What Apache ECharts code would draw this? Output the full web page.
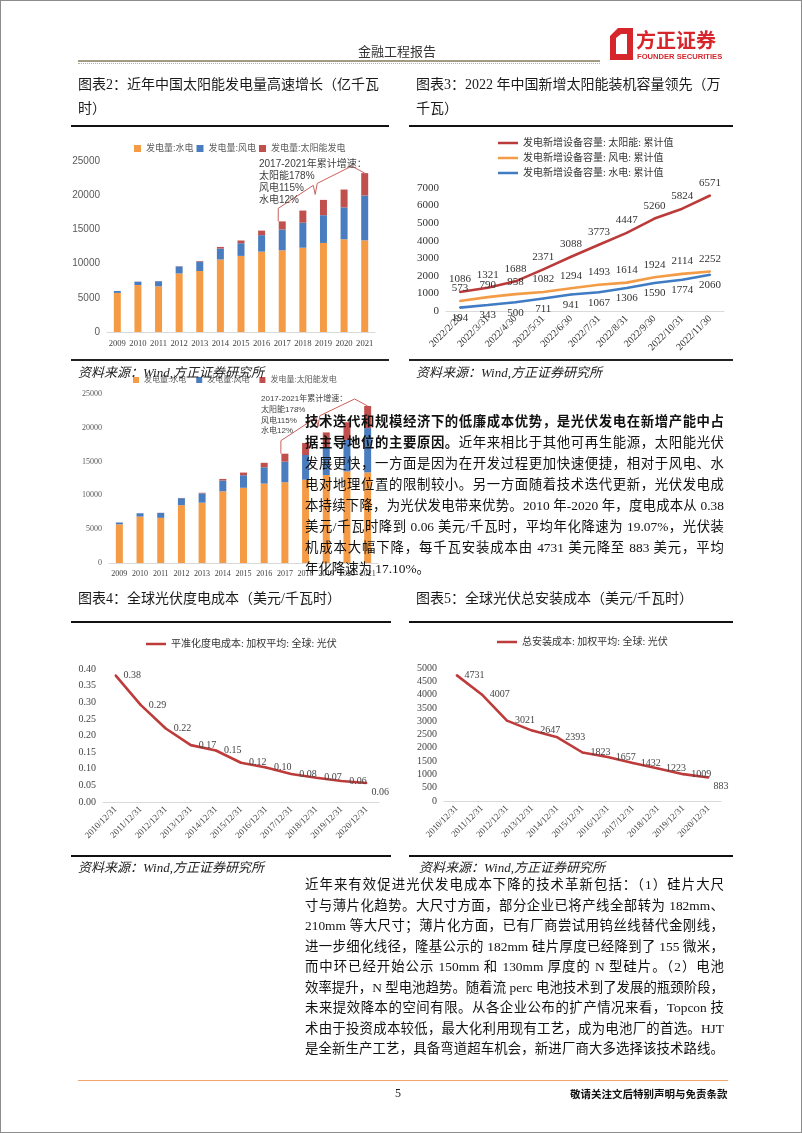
<!DOCTYPE html>
<html><head><meta charset="utf-8">
<script src="https://cdn.jsdelivr.net/npm/echarts@6.0.0/dist/echarts.min.js"></script>
<style>
html,body{margin:0;padding:0;background:#fff;}
#page{position:relative;width:802px;height:1133px;overflow:hidden;background:#fff;box-sizing:border-box;border:1px solid #8c8c8c;font-family:"Liberation Serif","Noto Sans CJK SC",serif;color:#1a1a1a;}
#chart{position:absolute;left:0;top:0;width:802px;height:1133px;z-index:1;}
.t{position:absolute;white-space:nowrap;z-index:2;}
.ttl{font-size:14px;height:20px;line-height:20px;color:#1a1a1a;}
.src{font-size:13px;font-style:italic;height:18px;line-height:18px;color:#222;}
.hl{position:absolute;z-index:2;}
.pl{position:absolute;z-index:3;left:304px;width:419px;height:20px;line-height:20px;font-size:13.4px;white-space:nowrap;text-align:justify;text-align-last:justify;color:#111;}
.pl.last{text-align-last:left;}
.pl b{font-weight:bold;}
</style>
</head><body>
<div id="page">
<div id="chart"></div>

<!-- header -->
<div class="t" style="left:357px;top:40px;font-size:13px;color:#333;">金融工程报告</div>
<div class="hl" style="left:77px;top:59px;width:522px;height:2px;background:#a39a83;"></div>
<div class="hl" style="left:77px;top:62px;width:522px;height:0;border-top:1px dotted #b9b3a3;"></div>
<svg class="t" style="left:606px;top:26px;" width="124" height="36" viewBox="0 0 124 36">
  <polygon points="3,9 11,1 26,1 26,33 3,33" fill="#d6262c"/>
  <polygon points="9,11 14,7 20,7 20,27 9,27" fill="#fff"/>
  <text x="29" y="21" font-family="Noto Sans CJK SC" font-weight="bold" font-size="20" fill="#d6262c">方正证券</text>
  <text x="30" y="32" font-family="Liberation Sans" font-weight="bold" font-size="7.6" fill="#d6262c">FOUNDER SECURITIES</text>
</svg>

<!-- titles row 1 -->
<div class="t ttl" style="left:77px;top:74px;">图表2：近年中国太阳能发电量高速增长（亿千瓦</div>
<div class="t ttl" style="left:77px;top:98px;">时）</div>
<div class="t ttl" style="left:415px;top:74px;">图表3：2022 年中国新增太阳能装机容量领先（万</div>
<div class="t ttl" style="left:415px;top:98px;">千瓦）</div>
<div class="hl" style="left:70px;top:124px;width:318px;height:2px;background:#111;"></div>
<div class="hl" style="left:408px;top:124px;width:324px;height:2px;background:#111;"></div>
<div class="hl" style="left:70px;top:358px;width:318px;height:2px;background:#222;"></div>
<div class="hl" style="left:408px;top:358px;width:324px;height:2px;background:#222;"></div>
<div class="t src" style="left:77px;top:363px;">资料来源：Wind,方正证券研究所</div>
<div class="t src" style="left:415px;top:363px;">资料来源：Wind,方正证券研究所</div>

<!-- middle paragraph -->
<div class="pl" style="top:411px;"><b>技术迭代和规模经济下的低廉成本优势，是光伏发电在新增产能中占</b></div>
<div class="pl" style="top:432px;"><b>据主导地位的主要原因。</b>近年来相比于其他可再生能源，太阳能光伏</div>
<div class="pl" style="top:453px;">发展更快，一方面是因为在开发过程更加快速便捷，相对于风电、水</div>
<div class="pl" style="top:474px;">电对地理位置的限制较小。另一方面随着技术迭代更新，光伏发电成</div>
<div class="pl" style="top:495px;">本持续下降，为光伏发电带来优势。2010 年-2020 年，度电成本从 0.38</div>
<div class="pl" style="top:516px;">美元/千瓦时降到 0.06 美元/千瓦时，平均年化降速为 19.07%，光伏装</div>
<div class="pl" style="top:537px;">机成本大幅下降，每千瓦安装成本由 4731 美元降至 883 美元，平均</div>
<div class="pl last" style="top:558px;">年化降速为 17.10%。</div>

<!-- titles row 2 -->
<div class="t ttl" style="left:77px;top:588px;">图表4：全球光伏度电成本（美元/千瓦时）</div>
<div class="t ttl" style="left:415px;top:588px;">图表5：全球光伏总安装成本（美元/千瓦时）</div>
<div class="hl" style="left:70px;top:620px;width:320px;height:2px;background:#111;"></div>
<div class="hl" style="left:408px;top:620px;width:324px;height:2px;background:#111;"></div>
<div class="hl" style="left:70px;top:854px;width:320px;height:2px;background:#111;"></div>
<div class="hl" style="left:408px;top:854px;width:324px;height:2px;background:#111;"></div>
<div class="t src" style="left:77px;top:858px;">资料来源：Wind,方正证券研究所</div>
<div class="t src" style="left:418px;top:858px;">资料来源：Wind,方正证券研究所</div>

<!-- bottom paragraph -->
<div class="pl" style="top:874px;">近年来有效促进光伏发电成本下降的技术革新包括：（1）硅片大尺</div>
<div class="pl" style="top:895px;">寸与薄片化趋势。大尺寸方面，部分企业已将产线全部转为 182mm、</div>
<div class="pl" style="top:915px;">210mm 等大尺寸；薄片化方面，已有厂商尝试用钨丝线替代金刚线，</div>
<div class="pl" style="top:936px;">进一步细化线径，隆基公示的 182mm 硅片厚度已经降到了 155 微米，</div>
<div class="pl" style="top:956px;">而中环已经开始公示 150mm 和 130mm 厚度的 N 型硅片。（2）电池</div>
<div class="pl" style="top:977px;">效率提升，N 型电池趋势。随着流 perc 电池技术到了发展的瓶颈阶段，</div>
<div class="pl" style="top:997px;">未来提效降本的空间有限。从各企业公布的扩产情况来看，Topcon 技</div>
<div class="pl" style="top:1018px;">术由于投资成本较低，最大化利用现有工艺，成为电池厂的首选。HJT</div>
<div class="pl" style="top:1038px;">是全新生产工艺，具备弯道超车机会，新进厂商大多选择该技术路线。</div>

<!-- footer -->
<div class="hl" style="left:77px;top:1079px;width:650px;height:1px;background:#f0a66a;"></div>
<div class="t" style="left:394px;top:1085px;font-size:12px;">5</div>
<div class="t" style="left:569px;top:1085px;font-size:10.5px;font-family:'Noto Sans CJK SC',sans-serif;font-weight:bold;color:#111;">敬请关注文后特别声明与免责条款</div>
</div>

<script>
// ---------------- data ----------------
const years = ['2009','2010','2011','2012','2013','2014','2015','2016','2017','2018','2019','2020','2021'];
const hydroGen = [5717,6867,6681,8556,8921,10601,11127,11748,11947,12321,13021,13552,13401];
const windGen  = [276,494,741,1030,1383,1598,1856,2409,3046,3658,4057,4665,6556];
const solarGen = [3,2,6,36,84,235,395,665,1178,1775,2238,2611,3270];
const genNames = ['发电量:水电','发电量:风电','发电量:太阳能发电'];
const genNote = ['2017-2021年累计增速：','太阳能178%','风电115%','水电12%'];

const months = ['2022/2/28','2022/3/31','2022/4/30','2022/5/31','2022/6/30','2022/7/31','2022/8/31','2022/9/30','2022/10/31','2022/11/30'];
const capSolar = [1086,1321,1688,2371,3088,3773,4447,5260,5824,6571];
const capWind  = [573,790,958,1082,1294,1493,1614,1924,2114,2252];
const capHydro = [194,343,500,711,941,1067,1306,1590,1774,2060];
const capNames = ['发电新增设备容量: 太阳能: 累计值','发电新增设备容量: 风电: 累计值','发电新增设备容量: 水电: 累计值'];

const costDates = ['2010/12/31','2011/12/31','2012/12/31','2013/12/31','2014/12/31','2015/12/31','2016/12/31','2017/12/31','2018/12/31','2019/12/31','2020/12/31'];
const lcoe = [0.381,0.292,0.221,0.171,0.155,0.118,0.104,0.084,0.073,0.063,0.057];
const installCost = [4731,4007,3021,2647,2393,1823,1657,1432,1223,1009,883];
const lcoeName = '平准化度电成本: 加权平均: 全球: 光伏';
const installName = '总安装成本: 加权平均: 全球: 光伏';

const genAxis = {min:0, max:25000, interval:5000};
const capAxis = {min:0, max:7000, interval:1000};
const lcoeAxis = {min:0, max:0.4, interval:0.05};
const instAxis = {min:0, max:5000, interval:500};

// ---------------- style ----------------
const SERIF = '"Liberation Serif","Noto Sans CJK SC",serif';
const SANS = '"Liberation Sans","Noto Sans CJK SC",sans-serif';
const C_HYDRO = '#F59B45', C_WIND = '#4A7DBF', C_SOLAR = '#C0504D';
const L_SOLAR = '#BA3B3A', L_WIND = '#F39B45', L_HYDRO = '#3F7CC4';
const RED = '#BE3B3B';
const plain = v => String(v);

const chart = echarts.init(document.getElementById('chart'));

function catX(gi, data, fs, rot, color, fam){
  return {type:'category', gridIndex:gi, data:data, boundaryGap:true,
    axisLine:{lineStyle:{color:'#d9d9d9'}}, axisTick:{show:false},
    axisLabel:{interval:0, rotate:rot, fontSize:fs, color:color, fontFamily:fam, margin:rot?6:7}};
}
function valY(gi, ax, fs, color, fam, fmt){
  return Object.assign({type:'value', gridIndex:gi, splitLine:{show:false}, axisLine:{show:false}, axisTick:{show:false},
    axisLabel:{fontSize:fs, color:color, fontFamily:fam, margin:7, formatter:fmt || plain}}, ax);
}
function barS(name, data, color, xi, stack, bw){
  return {type:'bar', name:name, data:data, stack:stack, xAxisIndex:xi, yAxisIndex:xi, barWidth:bw,
    itemStyle:{color:color}, emphasis:{disabled:true}};
}
function lineS(name, data, color, xi, lab){
  return {type:'line', name:name, data:data, xAxisIndex:xi, yAxisIndex:xi, symbol:'circle', symbolSize:2,
    lineStyle:{color:color, width:2.6}, itemStyle:{color:color}, label:lab, emphasis:{disabled:true}};
}
// last point's label sits below-right of the line end
function lastBelow(arr){
  return arr.map((v, i) => i === arr.length - 1 ? {value:v, label:{position:'right', offset:[-3, 9]}} : v);
}
const lineLegend = {itemWidth:20, itemHeight:2.5, icon:'rect', textStyle:{fontSize:10, color:'#333', fontFamily:SERIF}};

const option = {
  animation:false,
  grid:[
    {left:106, top:160, width:268, height:171},
    {left:445, top:187, width:278, height:123},
    {left:108, top:393, width:269, height:169},
    {left:102, top:668, width:276, height:133},
    {left:443, top:667, width:277, height:133}
  ],
  xAxis:[
    catX(0, years, 8.6, 0, '#404040', SERIF),
    catX(1, months, 10, 45, '#333', SERIF),
    catX(2, years, 8, 0, '#404040', SERIF),
    catX(3, costDates, 9, 45, '#444', SERIF),
    catX(4, costDates, 9, 45, '#444', SERIF)
  ],
  yAxis:[
    valY(0, genAxis, 10, '#595959', SANS),
    valY(1, capAxis, 11, '#333', SERIF),
    valY(2, genAxis, 8, '#595959', SERIF),
    valY(3, lcoeAxis, 10, '#444', SERIF, v => v.toFixed(2)),
    valY(4, instAxis, 10, '#444', SERIF)
  ],
  legend:[
    {data:genNames, left:128, top:138, itemWidth:7, itemHeight:7, itemGap:3, icon:'rect',
     textStyle:{fontSize:9, color:'#595959', fontFamily:SANS}},
    Object.assign({}, lineLegend, {data:capNames, orient:'vertical', left:492, top:132, itemGap:5}),
    {data:genNames, left:127, top:370, itemWidth:6, itemHeight:6, itemGap:10, icon:'rect',
     textStyle:{fontSize:8, color:'#595959', fontFamily:SERIF}},
    Object.assign({}, lineLegend, {data:[lcoeName], left:140, top:633}),
    Object.assign({}, lineLegend, {data:[installName], left:491, top:631})
  ],
  series:[
    barS(genNames[0], hydroGen, C_HYDRO, 0, 'g', 7),
    barS(genNames[1], windGen, C_WIND, 0, 'g', 7),
    barS(genNames[2], solarGen, C_SOLAR, 0, 'g', 7),
    lineS(capNames[0], capSolar, L_SOLAR, 1, {show:true, position:'top', distance:6, fontSize:11, color:'#333', fontFamily:SERIF}),
    lineS(capNames[1], capWind, L_WIND, 1, {show:true, position:'top', distance:6, fontSize:11, color:'#333', fontFamily:SERIF}),
    lineS(capNames[2], capHydro, L_HYDRO, 1, {show:true, position:'bottom', distance:4, fontSize:11, color:'#333', fontFamily:SERIF}),
    barS(genNames[0], hydroGen, C_HYDRO, 2, 'd', 7),
    barS(genNames[1], windGen, C_WIND, 2, 'd', 7),
    barS(genNames[2], solarGen, C_SOLAR, 2, 'd', 7),
    lineS(lcoeName, lastBelow(lcoe), RED, 3, {show:true, position:'right', distance:7, fontSize:10, color:'#444', fontFamily:SERIF,
      formatter: p => Number(p.value).toFixed(2)}),
    lineS(installName, lastBelow(installCost), RED, 4, {show:true, position:'right', distance:7, fontSize:10, color:'#444', fontFamily:SERIF})
  ]
};
chart.setOption(option);

// annotation brackets anchored to the 2017 and 2021 stack tops
const totals = years.map((y,i) => hydroGen[i] + windGen[i] + solarGen[i]);
const i17 = years.indexOf('2017'), i21 = years.indexOf('2021');
function px(gi, i, v){ return chart.convertToPixel({gridIndex:gi}, [i, v]); }
function bracket(gi, k){
  const a = px(gi, i17, totals[i17]), b = px(gi, i21, totals[i21]);
  const lx = a[0] - 4*k;
  const mx = lx + 35*k, my = a[1] - 36*k;
  return [[lx, a[1]], [lx, a[1]-13*k], [mx, my], [mx+2*k, my+9*k], [mx+4*k, my-2*k], [b[0]-13*k, b[1]-7*k], [b[0], b[1]]];
}
function noteTexts(x, y0, dy, fs){
  return genNote.map((s, j) => ({type:'text', x:x, y:y0 + j*dy, z:10,
    style:{text:s, fill:'#404040', font:fs + 'px "Liberation Sans","Noto Sans CJK SC",sans-serif', verticalAlign:'middle'}}));
}
chart.setOption({graphic:[
  {type:'polyline', z:10, shape:{points:bracket(0, 1)}, style:{stroke:'#C9605C', lineWidth:1, fill:null}},
  {type:'polyline', z:10, shape:{points:bracket(2, 1)}, style:{stroke:'#C9605C', lineWidth:1, fill:null}},
  ...noteTexts(258, 163, 12, 10),
  ...noteTexts(260, 398, 10.7, 8)
]});
</script>
</body></html>
